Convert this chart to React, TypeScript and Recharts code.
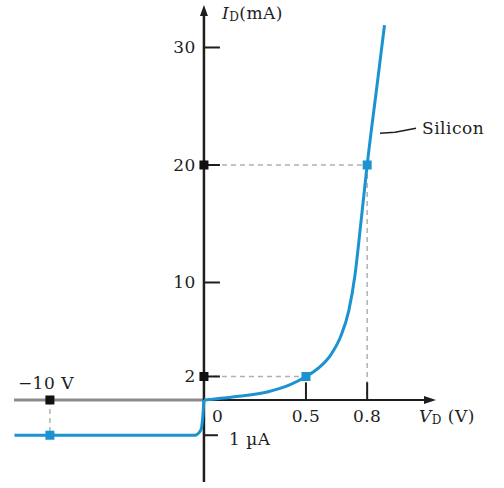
import React from "react";
import {
  ComposedChart,
  Line,
  Scatter,
  XAxis,
  YAxis,
  ReferenceLine,
  ReferenceDot,
} from "recharts";

// forward bias branch (V, mA)
const forwardV = [0, 0.14, 0.31, 0.42, 0.5, 0.56, 0.62, 0.67, 0.71, 0.74, 0.77, 0.8, 0.85, 0.885];
const forwardI = [0, 0.26, 0.68, 1.28, 2, 2.7, 3.8, 5.4, 7.6, 10.6, 15.2, 20, 27, 31.9];

// reverse bias branch (V, µA)
const reverseV = [-12.3, -10, -0.6, -0.2, -0.08, 0];
const reverseI = [-1, -1, -1, -0.85, -0.5, 0];

// marked points
const fwdMarkV = [0.5, 0.8];
const fwdMarkI = [2, 20];
const revMarkV = [-10];
const revMarkI = [-1];

const yTicks = [2, 10, 20, 30];
const xTicks = [0.5, 0.8];

// the drawing is not to scale on the negative side: compress it
const NEG_V_SCALE = 0.0755;
const UA_SCALE = 3;
const toX = (v: number) => (v >= 0 ? v : v * NEG_V_SCALE);
const toYuA = (i: number) => i * UA_SCALE;

const X_MIN = -0.931;
const X_MAX = 1.108;
const Y_MIN = -6.98;
const Y_MAX = 33.19;

const BLUE = "#1b93d1";
const INK = "#1e1e1e";
const FONT = "DejaVu Serif";

const forwardData = forwardV.map((v, i) => ({ x: toX(v), y: forwardI[i] }));
const reverseData = reverseV.map((v, i) => ({ x: toX(v), y: toYuA(reverseI[i]) }));
const blueMarks = [
  ...fwdMarkV.map((v, i) => ({ x: toX(v), y: fwdMarkI[i] })),
  ...revMarkV.map((v, i) => ({ x: toX(v), y: toYuA(revMarkI[i]) })),
];
const blackMarks = [
  ...fwdMarkI.map((i) => ({ x: 0, y: i })),
  ...revMarkV.map((v) => ({ x: toX(v), y: 0 })),
];

const square = (color: string) => (props: any) => (
  <rect x={props.cx - 4.5} y={props.cy - 4.5} width={9} height={9} fill={color} />
);

const txt = { fontFamily: FONT, fontSize: 17, letterSpacing: 0.5, fill: INK } as const;

const dash = { stroke: "#b0b0b0", strokeWidth: 1.5, strokeDasharray: "5 4" };

export default function App() {
  return (
    <div style={{ position: "absolute", left: 0, top: 0, background: "#fff" }}>
      <ComposedChart
        width={504}
        height={488}
        margin={{ top: 10, right: 74, bottom: 6, left: 14 }}
      >
        <XAxis type="number" dataKey="x" domain={[X_MIN, X_MAX]} hide allowDataOverflow />
        <YAxis type="number" dataKey="y" domain={[Y_MIN, Y_MAX]} hide allowDataOverflow />

        {/* guide lines */}
        <ReferenceLine segment={[{ x: 0, y: 20 }, { x: 0.8, y: 20 }]} {...dash} />
        <ReferenceLine segment={[{ x: 0, y: 2 }, { x: 0.5, y: 2 }]} {...dash} />
        <ReferenceLine segment={[{ x: 0.8, y: 20 }, { x: 0.8, y: 0 }]} {...dash} />
        <ReferenceLine
          segment={[{ x: toX(-10), y: 0 }, { x: toX(-10), y: toYuA(-1) }]}
          {...dash}
        />

        {/* axes */}
        <ReferenceLine
          segment={[{ x: X_MIN, y: 0 }, { x: 0, y: 0 }]}
          stroke="#8c8c8c"
          strokeWidth={3}
        />
        <ReferenceLine
          segment={[{ x: 0, y: 0 }, { x: X_MAX - 0.02, y: 0 }]}
          stroke={INK}
          strokeWidth={2}
        />
        <ReferenceLine
          segment={[{ x: 0, y: Y_MIN }, { x: 0, y: Y_MAX - 0.5 }]}
          stroke={INK}
          strokeWidth={2.5}
        />
        {xTicks.map((t) => (
          <ReferenceLine
            key={t}
            segment={[{ x: t, y: 0 }, { x: t, y: 1.5 }]}
            stroke={INK}
            strokeWidth={2}
          />
        ))}

        {/* arrow heads */}
        <ReferenceDot
          x={0}
          y={Y_MAX}
          r={0}
          shape={(p: any) => (
            <path d={`M${p.cx},${p.cy - 5} L${p.cx - 4},${p.cy + 6} L${p.cx + 4},${p.cy + 6} Z`} fill={INK} />
          )}
        />
        <ReferenceDot
          x={X_MAX}
          y={0}
          r={0}
          shape={(p: any) => (
            <path d={`M${p.cx + 6},${p.cy} L${p.cx - 6},${p.cy - 4} L${p.cx - 6},${p.cy + 4} Z`} fill={INK} />
          )}
        />

        {/* y ticks + labels */}
        {yTicks.map((t) => (
          <ReferenceDot
            key={t}
            x={0}
            y={t}
            r={0}
            shape={(p: any) => (
              <g>
                <line x1={p.cx} y1={p.cy} x2={p.cx + 16} y2={p.cy} stroke={INK} strokeWidth={2} />
                <text x={p.cx - 8} y={p.cy} textAnchor="end" dominantBaseline="central" {...txt}>
                  {t}
                </text>
              </g>
            )}
          />
        ))}

        {/* x tick labels */}
        {xTicks.map((t) => (
          <ReferenceDot
            key={t}
            x={t}
            y={0}
            r={0}
            shape={(p: any) => (
              <text x={p.cx} y={p.cy + 16} textAnchor="middle" dominantBaseline="central" {...txt}>
                {t}
              </text>
            )}
          />
        ))}
        <ReferenceDot
          x={0}
          y={0}
          r={0}
          shape={(p: any) => (
            <text x={p.cx + 8} y={p.cy + 16} dominantBaseline="central" {...txt}>
              0
            </text>
          )}
        />

        {/* axis titles */}
        <ReferenceDot
          x={X_MAX}
          y={0}
          r={0}
          shape={(p: any) => (
            <text x={p.cx - 11} y={p.cy + 16} dominantBaseline="central" {...txt}>
              <tspan fontStyle="italic">V</tspan>
              <tspan fontSize={12} dy={4}>D</tspan>
              <tspan dy={-4}> (V)</tspan>
            </text>
          )}
        />
        <ReferenceDot
          x={0}
          y={Y_MAX}
          r={0}
          shape={(p: any) => (
            <text x={p.cx + 18} y={p.cy + 3} dominantBaseline="central" {...txt}>
              <tspan fontStyle="italic">I</tspan>
              <tspan fontSize={12} dy={4}>D</tspan>
              <tspan dy={-4}>(mA)</tspan>
            </text>
          )}
        />

        {/* reverse annotations */}
        <ReferenceDot
          x={toX(-10)}
          y={0}
          r={0}
          shape={(p: any) => (
            <text x={p.cx - 4} y={p.cy - 17} textAnchor="middle" dominantBaseline="central" {...txt}>
              −10 V
            </text>
          )}
        />
        <ReferenceDot
          x={0}
          y={toYuA(-1)}
          r={0}
          shape={(p: any) => (
            <g>
              <line x1={p.cx} y1={p.cy} x2={p.cx + 14} y2={p.cy} stroke={INK} strokeWidth={2} />
              <text x={p.cx + 25} y={p.cy + 4} dominantBaseline="central" {...txt}>
                1 µA
              </text>
            </g>
          )}
        />

        {/* series label */}
        <ReferenceDot
          x={toX(0.863)}
          y={22.7}
          r={0}
          shape={(p: any) => (
            <g>
              <path
                d={`M${p.cx},${p.cy} L${p.cx + 15},${p.cy - 1} L${p.cx + 36},${p.cy - 5}`}
                fill="none"
                stroke={INK}
                strokeWidth={1.5}
              />
              <text x={p.cx + 42} y={p.cy - 5} dominantBaseline="central" {...txt}>
                Silicon
              </text>
            </g>
          )}
        />

        <Line
          data={reverseData}
          dataKey="y"
          type="monotone"
          stroke={BLUE}
          strokeWidth={3}
          dot={false}
          activeDot={false}
          isAnimationActive={false}
        />
        <Line
          data={forwardData}
          dataKey="y"
          type="monotone"
          stroke={BLUE}
          strokeWidth={3}
          dot={false}
          activeDot={false}
          isAnimationActive={false}
        />
        <Scatter data={blackMarks} dataKey="y" shape={square("#111")} isAnimationActive={false} />
        <Scatter data={blueMarks} dataKey="y" shape={square(BLUE)} isAnimationActive={false} />
      </ComposedChart>
    </div>
  );
}
